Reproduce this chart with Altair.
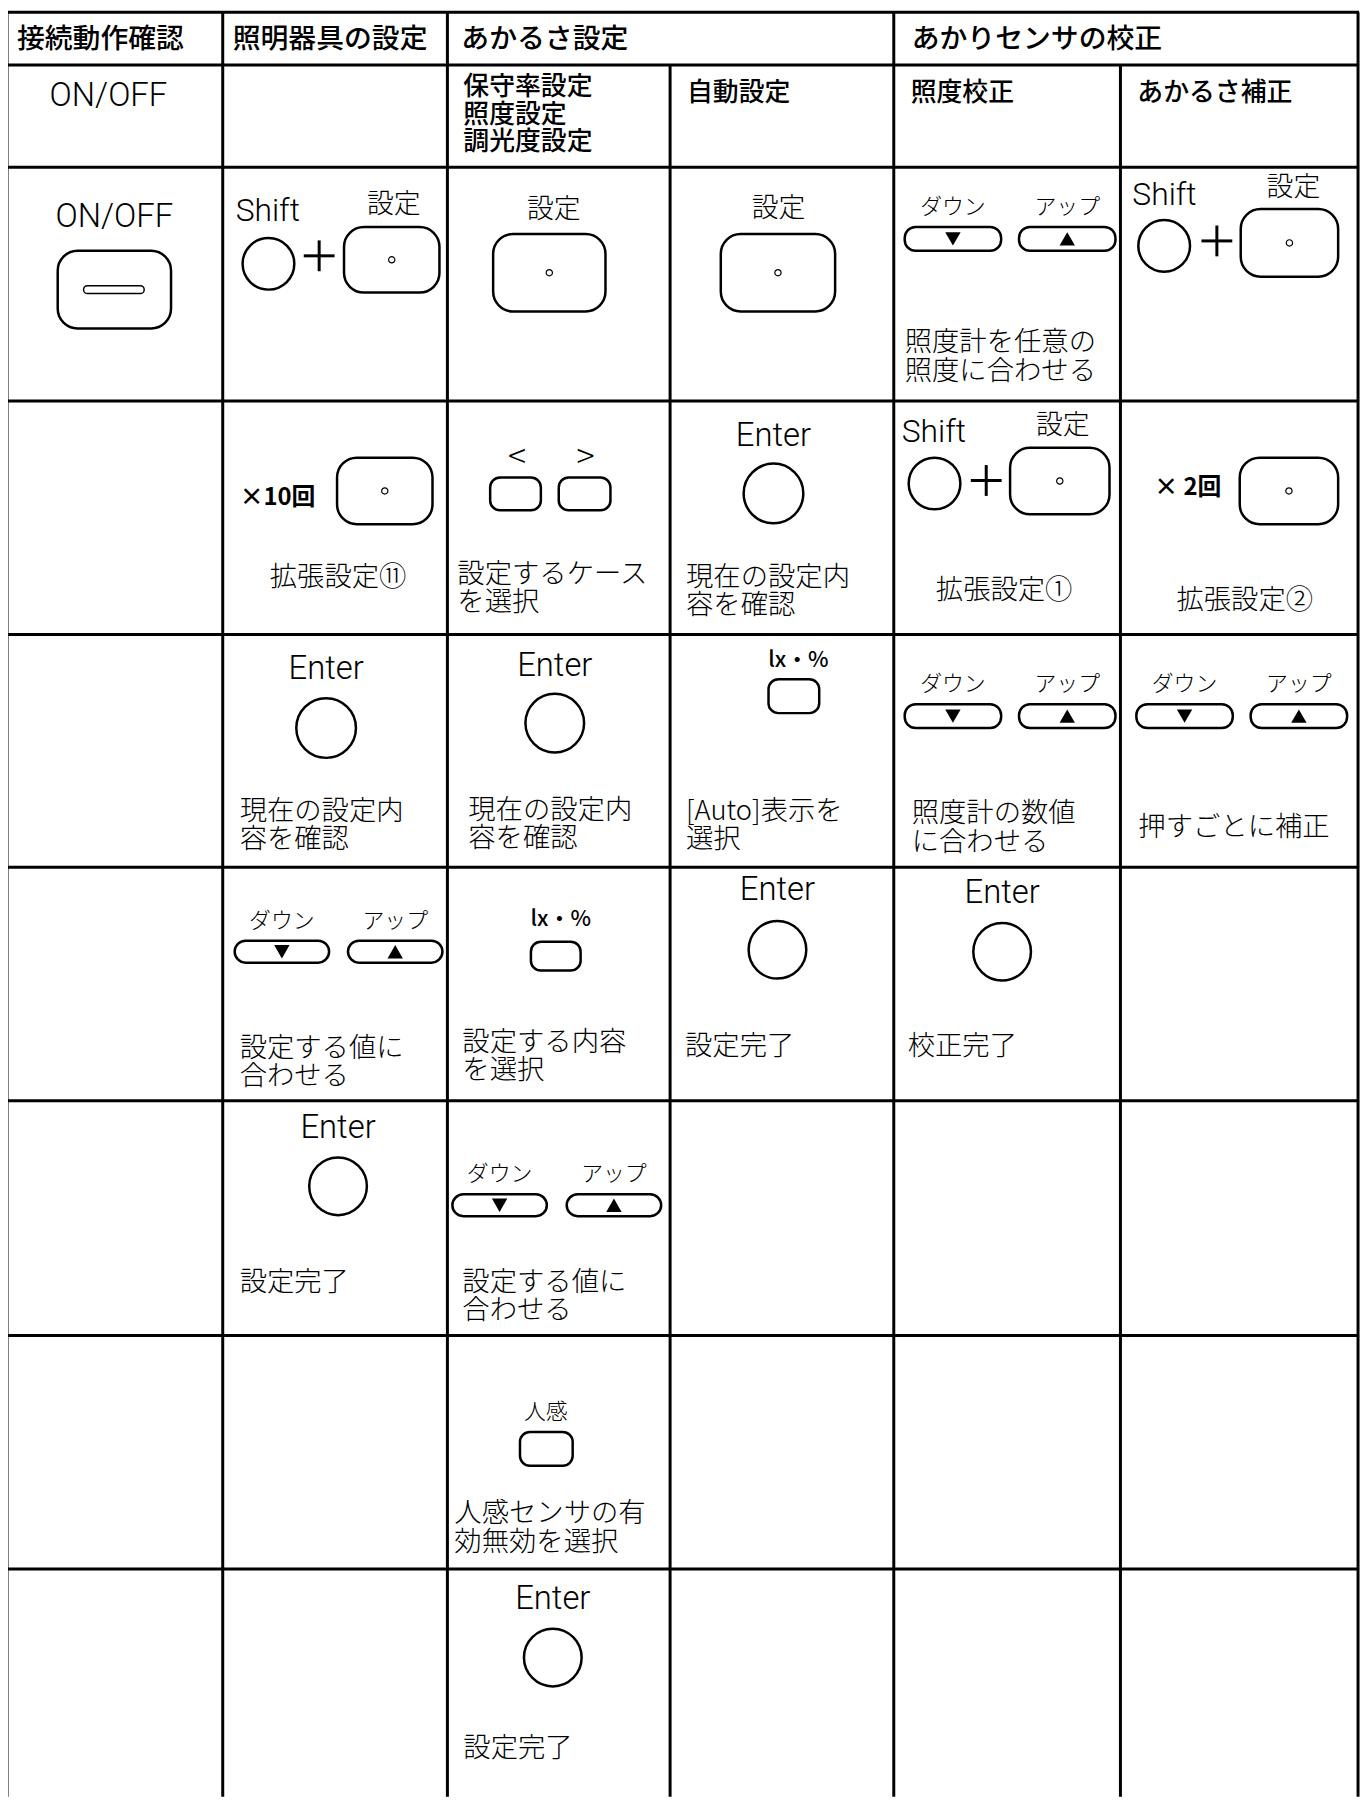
import altair as alt
import pandas as pd

# ------------------------------------------------------------------ content
HEADERS = ["接続動作確認", "照明器具の設定", "あかるさ設定", "あかりセンサの校正"]
SUB_BRIGHT = "保守率設定\n照度設定\n調光度設定"
SUB_OTHER = ["自動設定", "照度校正", "あかるさ補正"]
ONOFF = "ON/OFF"

# grid layout (page pixels)
COL = [7, 224, 450, 674, 899, 1127, 1366]
ROW = [7, 60, 163, 398, 633, 867, 1102, 1338, 1573, 1802]

rules, texts, rects, circles, dots, tris = [], [], [], [], [], []


def T(style, x, y, s):
    texts.append(dict(style=style, x=x, y=y, text=s))


def box(kind, x0, x1, y0, y1, dot=False):
    rects.append(dict(kind=kind, x=x0, x2=x1, y=y0, y2=y1))
    if dot:
        dots.append(dict(x=(x0 + x1) / 2, y=(y0 + y1) / 2))


def circ(cx, cy, d):
    circles.append(dict(x=cx, y=cy, s=d * d))


def plus(cx, cy, s):
    h = s / 2
    rules.append(dict(x=cx - h, x2=cx + h, y=cy, y2=cy))
    rules.append(dict(x=cx, x2=cx, y=cy - h, y2=cy + h))


def updown(xd, xu, y0, w=97, h=24):
    for x0, lab, shp in [(xd, "ダウン", "triangle-down"), (xu, "アップ", "triangle-up")]:
        box("pill", x0, x0 + w, y0, y0 + h)
        T("small", x0 + w / 2, y0 - 20, lab)
        tris.append(dict(x=x0 + w / 2, y=y0 + h / 2, shape=shp))


def enter(cx, ty, cy, d):
    T("latin", cx, ty, "Enter")
    circ(cx, cy, d)


def shift_combo(sx, sy, kx, ky, cx, cy, px, py, b):
    T("latinl", sx, sy, "Shift")
    T("key", kx, ky, "設定")
    circ(cx, cy, 52)
    plus(px, py, 31)
    box("big", *b, dot=True)


# grid lines
for y in ROW[:-1]:
    rules.append(dict(x=COL[0] - 1, x2=COL[-1] + 1, y=y, y2=y))
for x in [COL[0], COL[1], COL[2], COL[4], COL[6]]:
    rules.append(dict(x=x, x2=x, y=ROW[0], y2=ROW[-1]))
for x in [COL[3], COL[5]]:
    rules.append(dict(x=x, x2=x, y=ROW[1], y2=ROW[-1]))

# header row
for x, h in zip([17, 234, 464, 917], HEADERS):
    T("head", x, 35, h)
# sub header row (y = first line centre)
T("latin", 109, 91, ONOFF)
T("sub", 466, 82, SUB_BRIGHT)
for x, s in zip([691, 916, 1144], SUB_OTHER):
    T("sub", x, 88, s)

# row: first step
T("latin", 115, 213, ONOFF)
box("big", 58, 172, 247, 325)
box("slot", 84, 145, 282, 290)
shift_combo(237, 207, 396, 201, 270, 260, 321, 252, (346, 442, 223, 289))
T("key", 557, 206, "設定")
box("big", 496, 609, 230, 308, dot=True)
T("key", 783, 205, "設定")
box("big", 725, 840, 230, 308, dot=True)
updown(910, 1025, 223)
T("body", 910, 340, "照度計を任意の\n照度に合わせる")
shift_combo(1139, 191, 1301, 184, 1171, 242, 1224, 237, (1248, 1346, 205, 273))

# row: second step
T("times", 241, 496, "×10回")
box("big", 339, 435, 455, 522, dot=True)
T("bodyc", 340, 576, "拡張設定⑪")
T("angle", 520, 455, "<")
T("angle", 589, 455, ">")
box("small", 493, 544, 475, 508)
box("small", 562, 614, 475, 508)
T("body", 460, 573, "設定するケース\nを選択")
enter(778, 433, 491, 60)
T("body", 690, 576, "現在の設定内\n容を確認")
shift_combo(907, 429, 1069, 423, 940, 481, 992, 478, (1016, 1116, 445, 512))
T("bodyc", 1010, 589, "拡張設定①")
T("times", 1161, 486, "× 2回")
box("big", 1247, 1346, 455, 522, dot=True)
T("bodyc", 1252, 599, "拡張設定②")

# row: third step
enter(328, 668, 727, 60)
T("body", 241, 811, "現在の設定内\n容を確認")
enter(558, 665, 722, 59)
T("body", 471, 810, "現在の設定内\n容を確認")
T("lx", 803, 659, "lx・%")
box("small", 773, 824, 678, 712)
T("body", 690, 811, "[Auto]表示を\n選択")
updown(910, 1025, 703)
T("body", 917, 814, "照度計の数値\nに合わせる")
updown(1143, 1258, 703)
T("body", 1145, 828, "押すごとに補正")

# row: fourth step
updown(236, 350, 941, w=95, h=22)
T("body", 241, 1050, "設定する値に\n合わせる")
T("lx", 564, 919, "lx・%")
box("small", 534, 584, 942, 971)
T("body", 465, 1044, "設定する内容\nを選択")
enter(782, 890, 950, 58)
T("body", 689, 1048, "設定完了")
enter(1008, 893, 952, 58)
T("body", 913, 1048, "校正完了")

# row: fifth step
enter(340, 1129, 1188, 58)
T("body", 241, 1285, "設定完了")
updown(455, 570, 1196, w=95, h=22)
T("body", 465, 1285, "設定する値に\n合わせる")

# row: sixth step
T("small", 549, 1415, "人感")
box("small", 523, 576, 1435, 1469)
T("body", 457, 1518, "人感センサの有\n効無効を選択")

# row: seventh step
enter(556, 1603, 1662, 58)
T("body", 466, 1754, "設定完了")

# ------------------------------------------------------------------ chart
W, H = 1364, 1794
X = lambda f="x": alt.X(f"{f}:Q", scale=alt.Scale(domain=[8, 8 + W], nice=False, zero=False), axis=None)
Y = lambda f="y": alt.Y(f"{f}:Q", scale=alt.Scale(domain=[8, 8 + H], reverse=True, nice=False, zero=False), axis=None)

rule_df = pd.DataFrame(rules)
text_df = pd.DataFrame(texts)
rect_df = pd.DataFrame(rects)
circ_df = pd.DataFrame(circles)
dot_df = pd.DataFrame(dots)
tri_df = pd.DataFrame(tris)

layers = []
RECT_STYLE = {"big": (20, 2.5), "small": (10, 2.5), "pill": (11, 2.5), "slot": (4, 1.5)}
for kind, (cr, sw) in RECT_STYLE.items():
    layers.append(
        alt.Chart(rect_df[rect_df.kind == kind]).mark_rect(
            cornerRadius=cr, fill="white", stroke="black", strokeWidth=sw
        ).encode(x=X(), x2="x2:Q", y=Y(), y2="y2:Q")
    )

layers.append(
    alt.Chart(dot_df).mark_point(shape="circle", filled=False, color="black",
                                 strokeWidth=1.2, size=40, opacity=1).encode(x=X(), y=Y())
)
layers.append(
    alt.Chart(circ_df).mark_point(shape="circle", filled=False, color="black",
                                  strokeWidth=2.5, opacity=1).encode(
        x=X(), y=Y(), size=alt.Size("s:Q", scale=None))
)
layers.append(
    alt.Chart(tri_df).mark_point(filled=True, color="black", size=240, opacity=1, strokeWidth=0).encode(
        x=X(), y=Y(), shape=alt.Shape("shape:N", scale=None))
)
layers.append(
    alt.Chart(rule_df).mark_rule(color="black", strokeWidth=3).encode(
        x=X(), x2="x2:Q", y=Y(), y2="y2:Q")
)

CJK = "Noto Sans CJK JP"
LAT = "Roboto"
STYLES = {
    "head": (CJK, 28, 500, "left", 28),
    "sub": (CJK, 26, 500, "left", 28),
    "body": (CJK, 27.5, 300, "left", 28.5),
    "bodyc": (CJK, 27.5, 300, "center", 29),
    "key": (CJK, 27, 300, "center", 28),
    "small": (CJK, 22, 300, "center", 24),
    "latin": (LAT, 33, 300, "center", 34),
    "latinl": (LAT, 32, 300, "left", 34),
    "times": (CJK, 24, "bold", "left", 26),
    "lx": (CJK, 22, 500, "center", 24),
    "angle": (CJK, 34, 200, "center", 34),
}
for st, (font, fs, fw, al, lh) in STYLES.items():
    sub = text_df[text_df["style"] == st]
    if len(sub) == 0:
        continue
    layers.append(
        alt.Chart(sub).mark_text(font=font, fontSize=fs, fontWeight=fw, align=al,
                                 baseline="middle", lineBreak="\n", lineHeight=lh,
                                 color="black").encode(
            x=X(), y=Y(), text="text:N")
    )

chart = alt.layer(*layers).properties(
    width=W, height=H, autosize=alt.AutoSizeParams(type="none"), padding=0,
    background="white"
).configure_view(strokeWidth=0)

chart.save("out.html", embed_options={"renderer": "svg", "actions": False})
